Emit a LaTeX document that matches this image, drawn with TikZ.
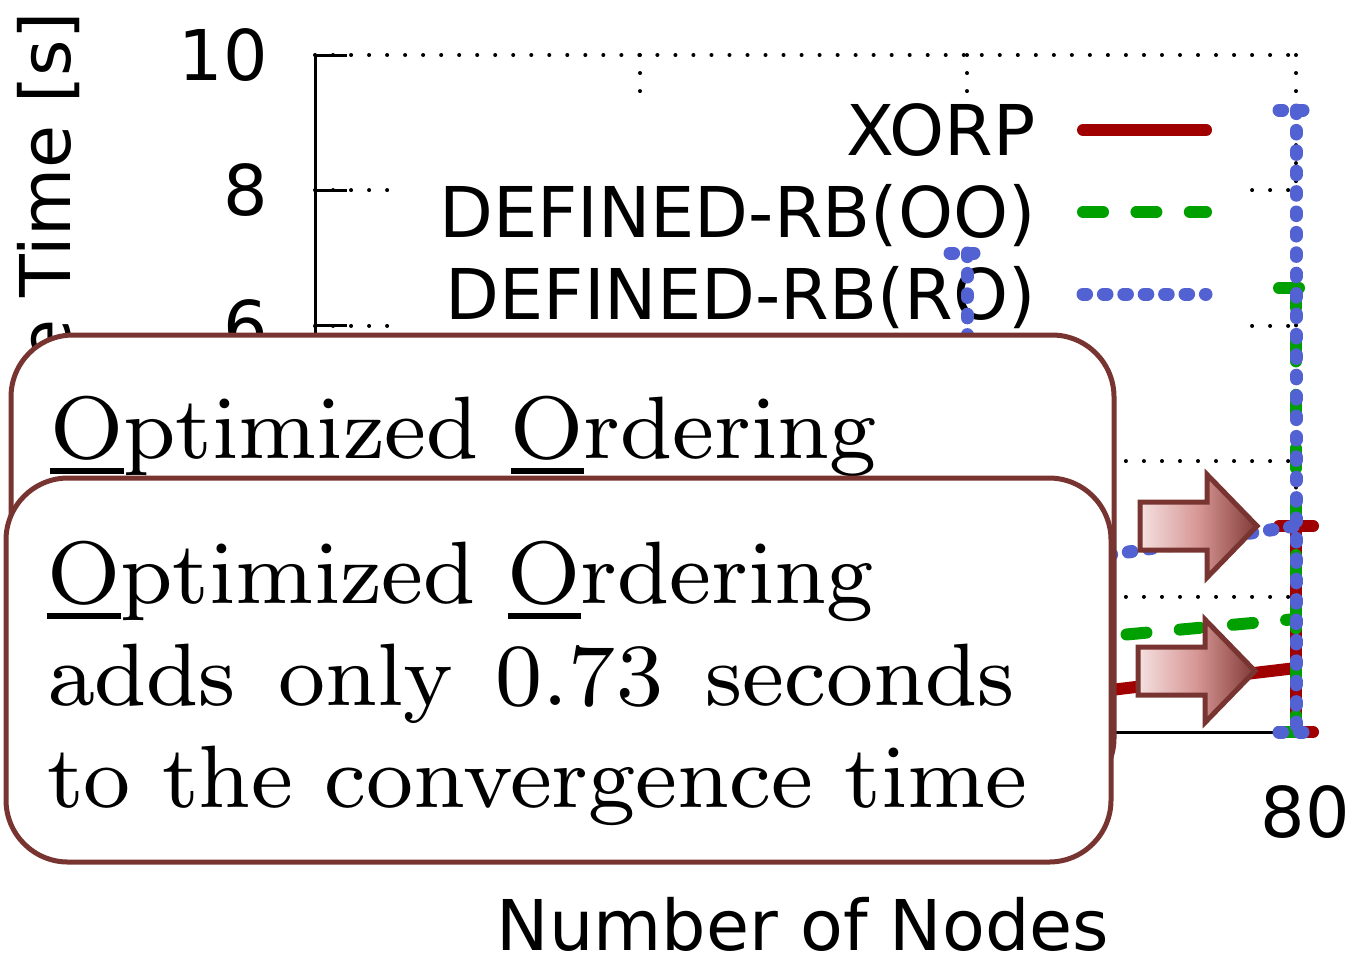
\documentclass[tikz,border=0pt]{standalone}
\usepackage{fontspec}
\newfontfamily\plotfont{DejaVu Sans}
\font\calloutfont=cmr8 at 44.3pt
% underline a single letter with a short bar under its own width
\newcommand\ulO[1]{\setbox0\hbox{#1}\rlap{\rule[-0.167em]{\wd0}{0.057em}}#1}
\definecolor{xorpred}{RGB}{160,0,0}
\definecolor{oogreen}{RGB}{0,160,0}
\definecolor{roblue}{RGB}{82,98,210}
\definecolor{calloutedge}{RGB}{120,52,48}
\definecolor{arrowlight}{RGB}{245,225,225}
\definecolor{arrowmid}{RGB}{214,150,148}
\definecolor{arrowdark}{RGB}{128,58,54}
\begin{document}
\begin{tikzpicture}[x=0.5pt, y=-0.5pt,
  grid line/.style={line width=2pt, line cap=round, dash pattern=on 0.01pt off 9pt},
  axis line/.style={line width=1.5pt},
  xorp/.style={xorpred, line width=6pt, line cap=round},
  oo/.style={oogreen, line width=6pt, line cap=round, dash pattern=on 10pt off 16.7pt},
  ro/.style={roblue, line width=6.5pt, line cap=round, dash pattern=on 1.8pt off 8.4pt},
  plotlabel/.style={font=\plotfont\fontsize{35}{42}\selectfont, inner sep=0pt},
  callout/.style={draw=calloutedge, fill=white, line width=2.5pt, rounded corners=31pt,
    inner sep=0pt, outer sep=0pt, anchor=north west},
  callouttext/.style={font=\calloutfont, inner sep=0pt, anchor=base west},
  blockarrow/.style={draw=calloutedge, line width=2.5pt, line join=miter,
    left color=arrowlight, right color=arrowdark, middle color=arrowmid}]
\useasboundingbox (0,0) rectangle (1352,966);

% grid
\foreach \gy in {55,190.4,325.8,461.2,596.6}
  \draw[grid line] (315,\gy) -- (1296,\gy);
\foreach \gx in {640,967,1296}
  \draw[grid line] (\gx,55) -- (\gx,732);

% opaque key area
\node[fill=white, inner sep=0pt, outer sep=0pt, minimum width=423.5pt, minimum height=118.5pt,
  anchor=north west] (keybg) at (398,95) {};

% axes and ticks
\draw[axis line] (315,55) -- (315,732) -- (1296,732);
\foreach \gy in {55,190.4,325.8,461.2,596.6}
  \draw[axis line] (315,\gy) -- (347,\gy);

% tick labels and axis titles
\node[plotlabel, anchor=east] (ytick10) at (268,55) {10};
\node[plotlabel, anchor=east] (ytick8) at (268,190.4) {8};
\node[plotlabel, anchor=east] (ytick6) at (268,325.8) {6};
\node[plotlabel] (xtick80) at (1305,812) {80};
\node[plotlabel, anchor=base] (xtitle) at (803,950) {Number of Nodes};
\node[plotlabel, rotate=90, anchor=base east] (ytitle) at (70,12) {e Time [s]};

% key
\node[plotlabel, anchor=base east] (keyxorp) at (1036,155.5) {XORP};
\node[plotlabel, anchor=base east] (keyoo) at (1036,237.5) {DEFINED-RB(OO)};
\node[plotlabel, anchor=base east] (keyro) at (1036,319.5) {DEFINED-RB(RO)};
\draw[xorp] (1083,130) -- (1206,130);
\draw[oo] (1083,212) -- (1206,212);
\draw[ro] (1083,294) -- (1206,294);

% XORP
\draw[xorp] (967,707) -- (1296,668);
\draw[xorp] (1296,526) -- (1296,732);
\draw[xorp] (1279,526) -- (1313,526);
\draw[xorp] (1279,732) -- (1313,732);
% DEFINED-RB(OO)
\draw[oo] (967,649) -- (1296,619);
\draw[oo] (1296,288) -- (1296,732);
\draw[oo] (1279,288) -- (1313,288);
\draw[oo] (1279,732) -- (1313,732);
% DEFINED-RB(RO)
\draw[ro] (967,577) -- (1296,526);
\draw[ro] (967,253) -- (967,420);
\draw[ro] (950,253) -- (984,253);
\draw[ro] (1296,110) -- (1296,732);
\draw[ro] (1279,110) -- (1313,110);
\draw[ro] (1279,732) -- (1313,732);

% callouts
\node[callout, minimum width=551.5pt, minimum height=232.5pt] (backbox) at (11,335) {};
\node[callouttext] (backtext) at (50,458) {\ulO{O}ptimized \ulO{O}rdering};
\node[callout, minimum width=552.5pt, minimum height=192pt] (frontbox) at (6,478) {};
\node[callouttext] (fronttext) at (47,603) {\vtop{\baselineskip=51pt
  \hbox{\ulO{O}ptimized \ulO{O}rdering}
  \hbox to 484pt{adds only 0.73 seconds}
  \hbox{to the convergence time}}};

% block arrows pointing at the 80-node results
\coordinate (arrowhitip) at (1257,526);
\coordinate (arrowlotip) at (1255,671);
\path[blockarrow] (arrowhitip) -- ++(-50,-51.5) -- ++(0,27.5) -- ++(-67,0)
  -- ++(0,48) -- ++(67,0) -- ++(0,27.5) -- cycle;
\path[blockarrow] (arrowlotip) -- ++(-50,-51.5) -- ++(0,27.5) -- ++(-67,0)
  -- ++(0,48) -- ++(67,0) -- ++(0,27.5) -- cycle;
\end{tikzpicture}
\end{document}
